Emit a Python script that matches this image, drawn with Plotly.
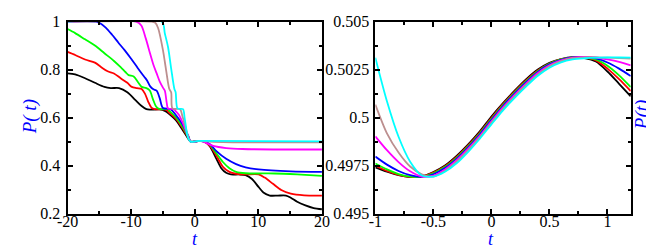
import plotly.graph_objects as go

# ---------------- Left panel data (t in [-20, 20]) ----------------
t_black_l = [-20, -18.8, -17.25, -15.7, -14.2, -13.2, -11.9, -10.6, -9.36, -8.35, -7.6, -7.07, -5.5, -4.7, -4, -3, -2, -1.17, -0.66, 0, 0.7, 1.2, 1.63, 2.39, 3.41, 4.17, 4.94, 5.7, 6.97, 7.99, 9.0, 10.03, 10.79, 11.8, 13.08, 14.35, 15.1, 16.1, 17.4, 18.7, 20]
p_black_l = [0.784, 0.780, 0.764, 0.745, 0.728, 0.723, 0.723, 0.706, 0.674, 0.648, 0.635, 0.633, 0.634, 0.628, 0.615, 0.590, 0.552, 0.518, 0.500, 0.500, 0.503, 0.502, 0.499, 0.480, 0.428, 0.389, 0.370, 0.363, 0.363, 0.360, 0.344, 0.311, 0.288, 0.275, 0.275, 0.275, 0.266, 0.249, 0.234, 0.223, 0.218]

t_red_l = [-20, -18.8, -17.25, -15.7, -14.7, -13.7, -12.7, -11.65, -10.6, -9.9, -9.1, -8.35, -7.83, -7.33, -6.8, -6.3, -4.5, -4, -3, -2, -1, -0.66, 0, 0.7, 1.4, 2.39, 3.41, 4.43, 5.45, 6.5, 8.0, 10.03, 11.0, 12.3, 13.6, 15.1, 17.2, 20]
p_red_l = [0.874, 0.861, 0.842, 0.829, 0.810, 0.793, 0.784, 0.764, 0.745, 0.728, 0.723, 0.719, 0.700, 0.667, 0.641, 0.635, 0.633, 0.620, 0.597, 0.560, 0.516, 0.500, 0.500, 0.503, 0.501, 0.482, 0.441, 0.395, 0.374, 0.366, 0.363, 0.363, 0.350, 0.324, 0.298, 0.283, 0.276, 0.275]

t_green_l = [-20, -18.8, -17.25, -15.7, -14.2, -12.7, -11.65, -10.9, -10.4, -9.6, -8.86, -8.35, -7.6, -7.07, -6.56, -6.05, -5.5, -4.2, -4, -3, -2, -1, -0.66, 0, 0.7, 1.4, 2.39, 3.41, 4.43, 5.45, 6.5, 8.0, 12.6, 16.1, 20]
p_green_l = [0.969, 0.952, 0.926, 0.900, 0.868, 0.836, 0.810, 0.790, 0.777, 0.771, 0.745, 0.728, 0.723, 0.713, 0.676, 0.645, 0.635, 0.635, 0.628, 0.603, 0.566, 0.519, 0.500, 0.500, 0.503, 0.501, 0.486, 0.451, 0.415, 0.389, 0.374, 0.368, 0.367, 0.363, 0.357]

t_blue_l = [-20, -15.5, -15, -14, -13, -12, -11, -10, -9, -8, -7.5, -7, -6.5, -6, -5.5, -5, -3.8, -3, -2, -1, -0.66, 0, 0.7, 1.4, 2.39, 3.41, 4.94, 6.5, 8.0, 10.03, 15.1, 20]
p_blue_l = [1.0, 1.0, 0.995, 0.975, 0.945, 0.912, 0.880, 0.845, 0.808, 0.772, 0.755, 0.730, 0.718, 0.712, 0.680, 0.640, 0.635, 0.612, 0.575, 0.523, 0.500, 0.500, 0.503, 0.501, 0.489, 0.460, 0.428, 0.406, 0.393, 0.384, 0.376, 0.374]

t_magenta_l = [-20, -9.2, -8.4, -7.7, -7, -6.5, -6, -5.5, -5.0, -4.7, -4.4, -4.2, -3.3, -3, -2.5, -2, -1.5, -1, -0.66, 0, 0.7, 1.3, 2.9, 4.94, 7.5, 20]
p_magenta_l = [1, 1, 0.984, 0.93, 0.865, 0.82, 0.785, 0.75, 0.725, 0.712, 0.66, 0.638, 0.635, 0.627, 0.612, 0.585, 0.553, 0.518, 0.5, 0.5, 0.503, 0.5, 0.482, 0.473, 0.469, 0.467]

t_brown_l = [-20, -6.8, -6.2, -5.75, -5, -4.5, -4.0, -3.7, -3.5, -2.3, -2, -1.5, -1.2, -1, -0.66, 0, 0.7, 1.2, 3, 6, 20]
p_brown_l = [1, 1, 0.995, 0.972, 0.881, 0.797, 0.719, 0.705, 0.638, 0.635, 0.612, 0.565, 0.535, 0.518, 0.5, 0.5, 0.503, 0.502, 0.499, 0.497, 0.497]

t_cyan_l = [-20, -5.2, -4.7, -4.2, -3.7, -3.2, -3.0, -2.7, -1.85, -1.6, -1.4, -1.2, -1.0, -0.66, 0, 0.7, 1.2, 20]
p_cyan_l = [1, 1, 0.95, 0.894, 0.803, 0.719, 0.705, 0.638, 0.635, 0.60, 0.565, 0.53, 0.512, 0.5, 0.5, 0.503, 0.503, 0.501]

# ---------------- Right panel data (t in [-1, 1.2]) ----------------
t_r = [-1.0, -0.9, -0.8, -0.7, -0.6, -0.5, -0.4, -0.3, -0.2, -0.1, 0.0, 0.1, 0.2, 0.3, 0.4, 0.5, 0.6, 0.7, 0.8, 0.9, 1.0, 1.1, 1.2]
p_black_r = [0.49741, 0.49718, 0.49700, 0.49690, 0.49694, 0.49716, 0.49750, 0.49800, 0.49860, 0.49928, 0.50005, 0.50075, 0.50140, 0.50200, 0.50250, 0.50285, 0.50305, 0.50315, 0.50310, 0.50292, 0.50240, 0.50176, 0.50111]
p_red_r = [0.49749, 0.49722, 0.49702, 0.49691, 0.49693, 0.49713, 0.49746, 0.49795, 0.49855, 0.49922, 0.49998, 0.50070, 0.50135, 0.50195, 0.50246, 0.50282, 0.50304, 0.50314, 0.50312, 0.50298, 0.50255, 0.50200, 0.50138]
p_green_r = [0.49761, 0.49730, 0.49706, 0.49692, 0.49692, 0.49710, 0.49742, 0.49790, 0.49850, 0.49917, 0.49992, 0.50065, 0.50130, 0.50190, 0.50242, 0.50280, 0.50303, 0.50314, 0.50313, 0.50303, 0.50270, 0.50220, 0.50159]
p_blue_r = [0.49797, 0.49755, 0.49722, 0.49700, 0.49692, 0.49705, 0.49737, 0.49785, 0.49845, 0.49912, 0.49987, 0.50060, 0.50125, 0.50185, 0.50238, 0.50277, 0.50301, 0.50313, 0.50315, 0.50308, 0.50287, 0.50255, 0.50216]
p_magenta_r = [0.49902, 0.49830, 0.49768, 0.49720, 0.49693, 0.49698, 0.49730, 0.49778, 0.49838, 0.49905, 0.49980, 0.50053, 0.50118, 0.50178, 0.50232, 0.50272, 0.50298, 0.50312, 0.50316, 0.50313, 0.50303, 0.50290, 0.50272]
p_brown_r = [0.50068, 0.49918, 0.49818, 0.49745, 0.49705, 0.49693, 0.49722, 0.49770, 0.49830, 0.49898, 0.49973, 0.50046, 0.50111, 0.50171, 0.50225, 0.50267, 0.50294, 0.50309, 0.50314, 0.50314, 0.50312, 0.50310, 0.50307]
p_cyan_r = [0.50312, 0.50085, 0.49900, 0.49770, 0.49698, 0.49693, 0.49718, 0.49762, 0.49822, 0.49890, 0.49965, 0.50038, 0.50103, 0.50163, 0.50218, 0.50260, 0.50288, 0.50303, 0.50309, 0.50312, 0.50313, 0.50313, 0.50312]

colors = ["#000000", "#ff0000", "#00ff00", "#0000ff", "#ff00ff", "#bc8f8f", "#00ffff"]

left_t = [t_black_l, t_red_l, t_green_l, t_blue_l, t_magenta_l, t_brown_l, t_cyan_l]
left_p = [p_black_l, p_red_l, p_green_l, p_blue_l, p_magenta_l, p_brown_l, p_cyan_l]
right_p = [p_black_r, p_red_r, p_green_r, p_blue_r, p_magenta_r, p_brown_r, p_cyan_r]

x_ticks_l = [-20, -10, 0, 10, 20]
x_ticktext_l = ["-20", "-10", "0", "10", "20"]
y_ticks_l = [0.2, 0.4, 0.6, 0.8, 1.0]
y_ticktext_l = ["0.2", "0.4", "0.6", "0.8", "1"]
x_ticks_r = [-1, -0.5, 0, 0.5, 1]
x_ticktext_r = ["-1", "-0.5", "0", "0.5", "1"]
y_ticks_r = [0.495, 0.4975, 0.5, 0.5025, 0.505]
y_ticktext_r = ["0.495", "0.4975", "0.5", "0.5025", "0.505"]

W, H = 654, 250
SERIF = "Times New Roman, Liberation Serif, Tinos, serif"
fig = go.Figure()
for tt, pp, c in zip(left_t, left_p, colors):
    fig.add_trace(go.Scatter(x=tt, y=pp, mode="lines", line=dict(color=c, width=1.8, shape="spline", smoothing=0.8),
                             xaxis="x", yaxis="y", showlegend=False))
for pp, c in zip(right_p, colors):
    fig.add_trace(go.Scatter(x=t_r, y=pp, mode="lines", line=dict(color=c, width=1.8, shape="spline", smoothing=0.8),
                             xaxis="x2", yaxis="y2", showlegend=False))

font = dict(family=SERIF, size=16, color="black")
ax_common = dict(showgrid=False, zeroline=False, showline=True, linecolor="black", linewidth=2,
                 mirror="allticks", ticks="inside", ticklen=5, tickwidth=1.5, tickcolor="black",
                 tickfont=font, tickmode="array", ticklabeloverflow="allow")

def px_x(p):
    return p / W

def px_y(p):
    return 1 - p / H

fig.update_layout(
    width=W, height=H, margin=dict(l=0, r=0, t=0, b=0),
    paper_bgcolor="white", plot_bgcolor="white", font=dict(family=SERIF),
    xaxis=dict(ax_common, domain=[px_x(50), px_x(312)], range=[-20, 20], tickvals=x_ticks_l, ticktext=x_ticktext_l,
               minor=dict(ticks="inside", ticklen=3, tickcolor="black", tickmode="array", tickvals=[-15, -5, 5, 15]),
               anchor="y", ticklabelstandoff=-8),
    yaxis=dict(ax_common, domain=[px_y(212), px_y(6)], range=[0.2, 1], tickvals=y_ticks_l, ticktext=y_ticktext_l,
               minor=dict(ticks="inside", ticklen=3, tickcolor="black", tickmode="array", tickvals=[0.3, 0.5, 0.7, 0.9]),
               anchor="x", ticklabelstandoff=2),
    xaxis2=dict(ax_common, domain=[px_x(367), px_x(630)], range=[-1, 1.2], tickvals=x_ticks_r, ticktext=x_ticktext_r,
                minor=dict(ticks="inside", ticklen=3, tickcolor="black", tickmode="array", tickvals=[-0.75, -0.25, 0.25, 0.75]),
                anchor="y2", ticklabelstandoff=-8),
    yaxis2=dict(ax_common, domain=[px_y(212), px_y(6)], range=[0.495, 0.505], tickvals=y_ticks_r, ticktext=y_ticktext_r,
                minor=dict(ticks="inside", ticklen=3, tickcolor="black", tickmode="array", tickvals=[0.49625, 0.49875, 0.50125, 0.50375]),
                anchor="x2", ticklabelstandoff=1),
)

title_font = dict(family=SERIF, size=19, color="#0000ff")
small_title = dict(family=SERIF, size=18, color="#0000ff")
fig.add_annotation(text="<i>P( t)</i>", x=px_x(11), y=px_y(108), xref="paper", yref="paper", textangle=-90,
                   showarrow=False, font=title_font, xanchor="center", yanchor="middle", borderpad=0)
fig.add_annotation(text="<i>P(t)</i>", x=px_x(641), y=px_y(106), xref="paper", yref="paper", textangle=-90,
                   showarrow=False, font=title_font, xanchor="center", yanchor="middle", borderpad=0)
fig.add_annotation(text="<i>t</i>", x=px_x(181), y=px_y(239.5), xref="paper", yref="paper",
                   showarrow=False, font=small_title, xanchor="center", yanchor="middle", borderpad=0)
fig.add_annotation(text="<i>t</i>", x=px_x(486), y=px_y(239.5), xref="paper", yref="paper",
                   showarrow=False, font=small_title, xanchor="center", yanchor="middle", borderpad=0)

fig.write_html("out.html")
